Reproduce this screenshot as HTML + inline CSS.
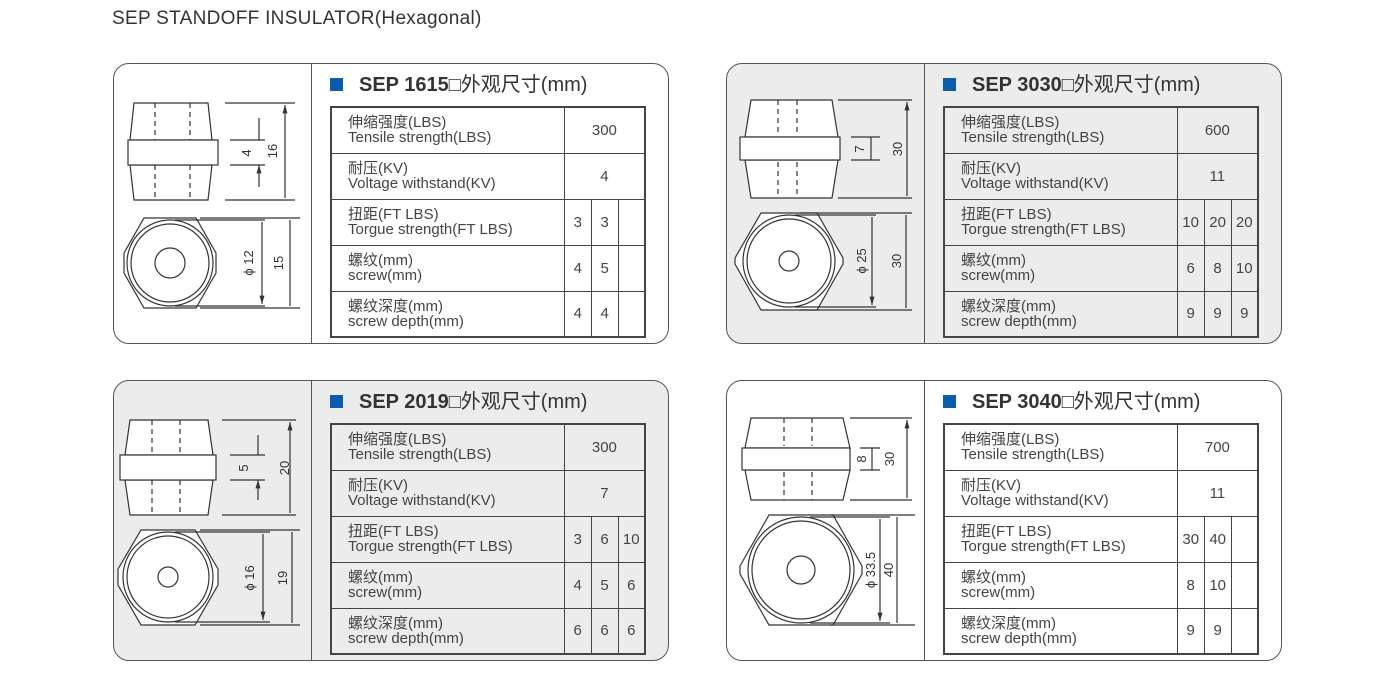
<!DOCTYPE html>
<html><head><meta charset="utf-8">
<style>
*{margin:0;padding:0;box-sizing:border-box}
body{width:1400px;height:678px;background:#fff;position:relative;overflow:hidden;font-family:"Liberation Sans","Noto Sans CJK SC",sans-serif;color:#333}
.h{position:absolute;left:112px;top:8px;font-size:19px;letter-spacing:0.3px;color:#333}
.p{position:absolute;width:556px;height:281px;border:1.6px solid #555;border-radius:16px}
.p .d{position:absolute;left:197px;top:0;bottom:0;border-left:1.6px solid #555}
.t{position:absolute;left:216px;top:4px;font-size:20px;color:#333;white-space:nowrap}
.t i{display:inline-block;width:13px;height:13px;background:#0a5cad;margin-right:16px;vertical-align:0px}
.t b{font-weight:bold}
table{position:absolute;left:216px;top:42px;border-collapse:collapse;border:2px solid #444;width:316px}
td{border:1.5px solid #444;height:46px;font-size:15px;color:#444;text-align:center;padding:0}
td.l{text-align:left;padding-left:16px;line-height:15px;width:234px}
td.n{width:27px}
</style></head><body>
<div class="h">SEP STANDOFF INSULATOR(Hexagonal)</div>

<div class="p" style="left:113px;top:63px;background:#fff"><div class="d"></div>
<div class="t"><i></i><b>SEP 1615</b>□外观尺寸(mm)</div>
<table><tr><td class="l">伸缩强度(LBS)<br>Tensile strength(LBS)</td><td colspan="3">300</td></tr>
<tr><td class="l">耐压(KV)<br>Voltage withstand(KV)</td><td colspan="3">4</td></tr>
<tr><td class="l">扭距(FT LBS)<br>Torgue strength(FT LBS)</td><td class="n">3</td><td class="n">3</td><td class="n"></td></tr>
<tr><td class="l">螺纹(mm)<br>screw(mm)</td><td>4</td><td>5</td><td></td></tr>
<tr><td class="l">螺纹深度(mm)<br>screw depth(mm)</td><td>4</td><td>4</td><td></td></tr></table></div>

<div class="p" style="left:726px;top:63px;background:#ececec"><div class="d"></div>
<div class="t"><i></i><b>SEP 3030</b>□外观尺寸(mm)</div>
<table><tr><td class="l">伸缩强度(LBS)<br>Tensile strength(LBS)</td><td colspan="3">600</td></tr>
<tr><td class="l">耐压(KV)<br>Voltage withstand(KV)</td><td colspan="3">11</td></tr>
<tr><td class="l">扭距(FT LBS)<br>Torgue strength(FT LBS)</td><td class="n">10</td><td class="n">20</td><td class="n">20</td></tr>
<tr><td class="l">螺纹(mm)<br>screw(mm)</td><td>6</td><td>8</td><td>10</td></tr>
<tr><td class="l">螺纹深度(mm)<br>screw depth(mm)</td><td>9</td><td>9</td><td>9</td></tr></table></div>

<div class="p" style="left:113px;top:380px;background:#ececec"><div class="d"></div>
<div class="t"><i></i><b>SEP 2019</b>□外观尺寸(mm)</div>
<table><tr><td class="l">伸缩强度(LBS)<br>Tensile strength(LBS)</td><td colspan="3">300</td></tr>
<tr><td class="l">耐压(KV)<br>Voltage withstand(KV)</td><td colspan="3">7</td></tr>
<tr><td class="l">扭距(FT LBS)<br>Torgue strength(FT LBS)</td><td class="n">3</td><td class="n">6</td><td class="n">10</td></tr>
<tr><td class="l">螺纹(mm)<br>screw(mm)</td><td>4</td><td>5</td><td>6</td></tr>
<tr><td class="l">螺纹深度(mm)<br>screw depth(mm)</td><td>6</td><td>6</td><td>6</td></tr></table></div>

<div class="p" style="left:726px;top:380px;background:#fff"><div class="d"></div>
<div class="t"><i></i><b>SEP 3040</b>□外观尺寸(mm)</div>
<table><tr><td class="l">伸缩强度(LBS)<br>Tensile strength(LBS)</td><td colspan="3">700</td></tr>
<tr><td class="l">耐压(KV)<br>Voltage withstand(KV)</td><td colspan="3">11</td></tr>
<tr><td class="l">扭距(FT LBS)<br>Torgue strength(FT LBS)</td><td class="n">30</td><td class="n">40</td><td class="n"></td></tr>
<tr><td class="l">螺纹(mm)<br>screw(mm)</td><td>8</td><td>10</td><td></td></tr>
<tr><td class="l">螺纹深度(mm)<br>screw depth(mm)</td><td>9</td><td>9</td><td></td></tr></table></div>

<svg width="1400" height="678" style="position:absolute;left:0;top:0" fill="none" stroke="#333" stroke-width="1.2" font-family="Liberation Sans, sans-serif" font-size="13">
<defs><marker id="a" viewBox="0 0 10 10" refX="10" refY="5" markerWidth="7" markerHeight="7" orient="auto-start-reverse"><path d="M0,2L10,5L0,8z" fill="#333" stroke="none"/></marker></defs>
<g fill="#fff">
<!-- TL -->
<path d="M134,103H208L212,140H130Z"/><path d="M130,165H212L208,200H134Z"/><rect x="128" y="140" width="90" height="25"/>
<path d="M124,253L144,218H196L216,253V273L196,308H144L124,273Z"/><circle cx="170" cy="263" r="43"/><circle cx="170" cy="263" r="39"/><circle cx="170" cy="263" r="15"/>
<!-- TR -->
<path d="M751,100H832L838,137H745Z"/><path d="M745,160H838L832,198H751Z"/><rect x="740" y="137" width="100" height="23"/>
<path d="M735,258L761,213H817L843,258V264L817,310H761L735,264Z"/><circle cx="789" cy="261" r="46"/><circle cx="789" cy="261" r="42"/><circle cx="789" cy="261" r="10"/>
<!-- BL -->
<path d="M130,420H208L213,455H125Z"/><path d="M125,480H213L208,515H130Z"/><rect x="120" y="455" width="96" height="25"/>
<path d="M118,569L141,530H195L218,569V585L195,625H141L118,585Z"/><circle cx="168" cy="577" r="45"/><circle cx="168" cy="577" r="41"/><circle cx="168" cy="577" r="10"/>
<!-- BR -->
<path d="M751,418H843L850,448H745Z"/><path d="M745,470H850L843,500H751Z"/><rect x="742" y="448" width="108" height="22"/>
<path d="M740,566L769,515H833L862,566V574L833,625H769L740,574Z"/><circle cx="801" cy="570" r="53"/><circle cx="801" cy="570" r="49"/><circle cx="801" cy="570" r="14"/>
</g>
<g stroke-dasharray="5,4">
<path d="M155,103V140M190,103V140M155,165V200M190,165V200"/>
<path d="M778,100V135M797,100V135M778,162V198M797,162V198"/>
<path d="M152,420V455M180,420V455M152,480V515M180,480V515"/>
<path d="M784,418V446M812,418V446M784,472V500M812,472V500"/>
</g>
<g>
<!-- TL dims -->
<path d="M225,103H295M225,200H295M230,140H265M230,165H265M175,220H265M175,306H265M200,218H300M200,308H300"/>
<path d="M285,105V198M290,220V306M262,222V304" marker-start="url(#a)" marker-end="url(#a)"/>
<path d="M259,118V140M259,187V165" marker-end="url(#a)"/>
<!-- TR -->
<path d="M838,100H912M838,198H912M851,137H880M851,160H880M795,215H876M795,307H876M800,213H912M800,310H912"/>
<path d="M907,102V196M906,215V308M872,217V305" marker-start="url(#a)" marker-end="url(#a)"/>
<path d="M871,137V160"/>
<!-- BL -->
<path d="M222,420H296M222,515H296M230,455H265M230,480H265M175,532H270M175,622H270M200,530H300M200,625H300"/>
<path d="M290,422V513M292,532V623M263,534V620" marker-start="url(#a)" marker-end="url(#a)"/>
<path d="M258,435V455M258,500V480" marker-end="url(#a)"/>
<!-- BR -->
<path d="M850,418H912M850,500H912M860,448H880M860,470H880M810,517H890M810,623H890M830,515H915M830,625H915"/>
<path d="M907,420V498M897,517V623M880,519V621" marker-start="url(#a)" marker-end="url(#a)"/>
<path d="M872,448V470"/>
</g>
<g fill="#333" stroke="none" text-anchor="middle">
<text transform="translate(277,151) rotate(-90)">16</text>
<text transform="translate(251,153) rotate(-90)">4</text>
<text transform="translate(253,263) rotate(-90)">ϕ 12</text>
<text transform="translate(283,263) rotate(-90)">15</text>
<text transform="translate(902,149) rotate(-90)">30</text>
<text transform="translate(864,149) rotate(-90)">7</text>
<text transform="translate(866,261) rotate(-90)">ϕ 25</text>
<text transform="translate(901,261) rotate(-90)">30</text>
<text transform="translate(289,468) rotate(-90)">20</text>
<text transform="translate(248,468) rotate(-90)">5</text>
<text transform="translate(254,578) rotate(-90)">ϕ 16</text>
<text transform="translate(287,578) rotate(-90)">19</text>
<text transform="translate(894,459) rotate(-90)">30</text>
<text transform="translate(866,459) rotate(-90)">8</text>
<text transform="translate(875,570) rotate(-90)">ϕ 33.5</text>
<text transform="translate(893,570) rotate(-90)">40</text>
</g>
</svg>
</body></html>
